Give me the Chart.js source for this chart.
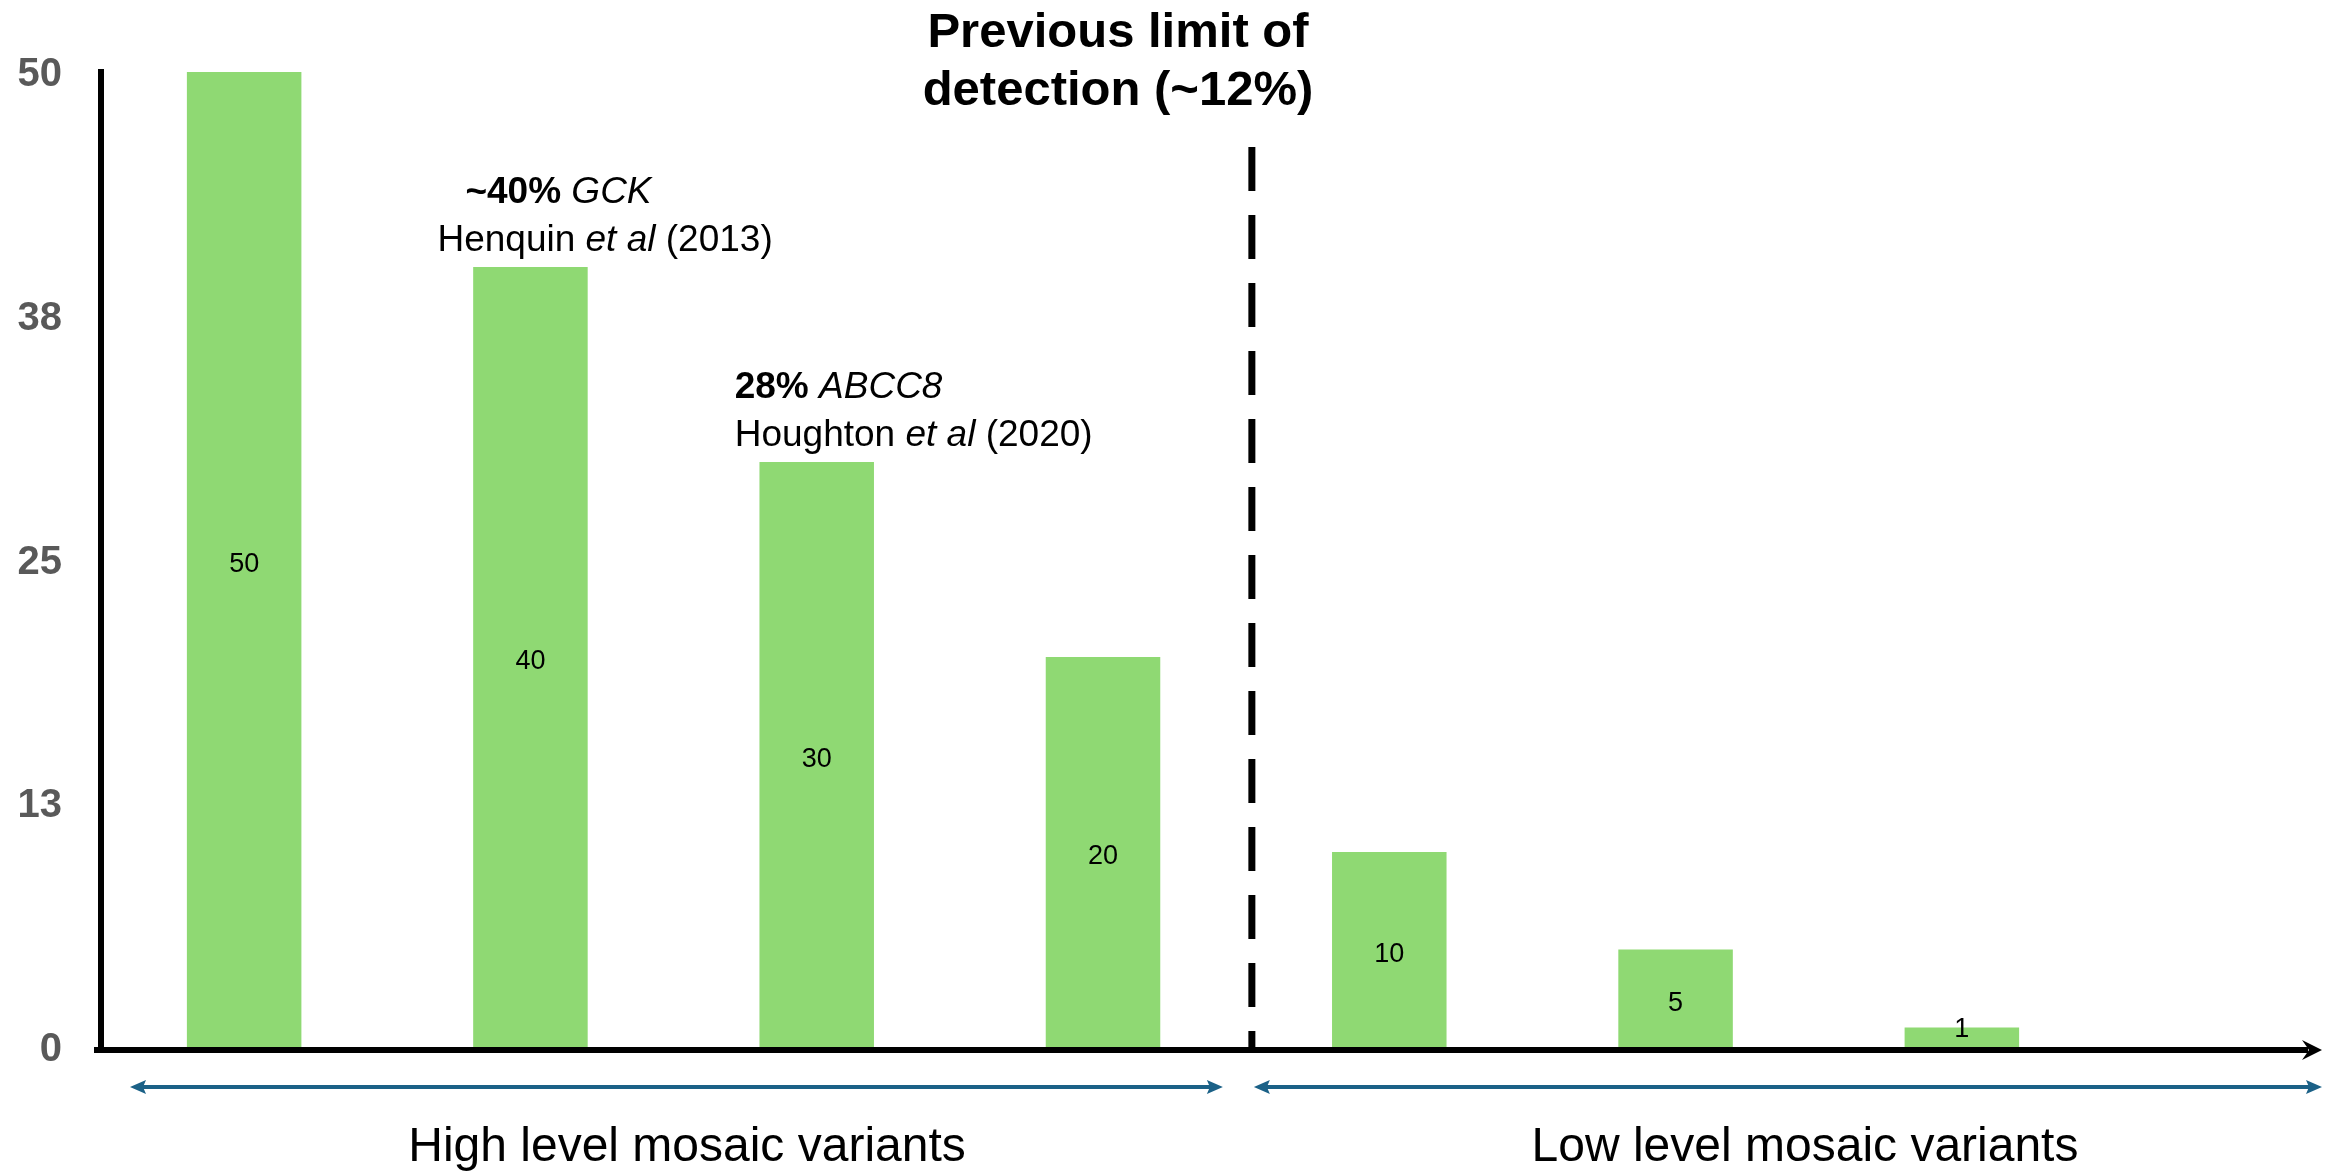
<!DOCTYPE html>
<html>
<head>
<meta charset="utf-8">
<script src="https://cdn.jsdelivr.net/npm/chart.js@4/dist/chart.umd.min.js"></script>
<style>
  html, body { margin: 0; padding: 0; background: #ffffff; }
  #wrap { width: 2341px; height: 1171px; position: relative; }
</style>
</head>
<body>
<div id="wrap"><canvas id="chart"></canvas></div>
<script>
// Variant allele fraction levels (%) shown as bars
const categories = ['50%', '40%', '30%', '20%', '10%', '5%', '1%'];
const variantLevels = [50, 40, 30, 20, 10, 5, 1];

// Y axis ticks and the labels printed next to them
const tickValues = [0, 12.5, 25, 37.5, 50];
const tickLabels = ['0', '13', '25', '38', '50'];

// Detection limit marker, sits between the 20% and 10% bars
const detectionLimitPosition = 3.52;
const detectionLimitLines = ['Previous limit of', 'detection (~12%)'];

// Group captions under the axis
const groupLabels = ['High level mosaic variants', 'Low level mosaic variants'];

// Literature call-outs above bars (bar index + styled text runs)
const calloutBars = [1, 2];
const calloutText = [
  [
    [{ t: '~40%', s: 'bold' }, { t: ' GCK', s: 'italic' }],
    [{ t: 'Henquin ', s: '' }, { t: 'et al', s: 'italic' }, { t: ' (2013)', s: '' }]
  ],
  [
    [{ t: '28%', s: 'bold' }, { t: ' ABCC8', s: 'italic' }],
    [{ t: 'Houghton ', s: '' }, { t: 'et al', s: 'italic' }, { t: ' (2020)', s: '' }]
  ]
];

const FONT = '"Liberation Sans", Arial, Helvetica, sans-serif';
const BAR_GREEN = '#8FD973';
const ARROW_BLUE = '#1B6187';

function drawRuns(ctx, runs, x, y, size) {
  let cx = x;
  for (const r of runs) {
    ctx.font = `${r.s} ${size}px ${FONT}`;
    ctx.fillText(r.t, cx, y);
    cx += ctx.measureText(r.t).width;
  }
}

function blueArrowHead(ctx, tipX, y, dir) {
  // dir = 1 points right, -1 points left
  const len = 16, half = 7, notch = 3;
  ctx.beginPath();
  ctx.moveTo(tipX, y);
  ctx.lineTo(tipX - dir * len, y - half);
  ctx.lineTo(tipX - dir * (len - notch), y);
  ctx.lineTo(tipX - dir * len, y + half);
  ctx.closePath();
  ctx.fill();
}

function doubleArrow(ctx, x1, x2, y) {
  ctx.save();
  ctx.strokeStyle = ARROW_BLUE;
  ctx.fillStyle = ARROW_BLUE;
  ctx.lineWidth = 4;
  ctx.beginPath();
  ctx.moveTo(x1 + 10, y);
  ctx.lineTo(x2 - 10, y);
  ctx.stroke();
  blueArrowHead(ctx, x1, y, -1);
  blueArrowHead(ctx, x2, y, 1);
  ctx.restore();
}

const decorations = {
  id: 'decorations',
  afterDatasetsDraw(chart) {
    const { ctx, chartArea: area, scales } = chart;
    const xs = scales.x;
    const base = area.bottom;
    ctx.save();

    // value labels inside the bars
    const meta = chart.getDatasetMeta(0);
    ctx.fillStyle = '#000000';
    ctx.font = `27px ${FONT}`;
    ctx.textAlign = 'center';
    ctx.textBaseline = 'middle';
    meta.data.forEach((bar, i) => {
      let y = (bar.y + bar.base) / 2 + 5;
      y = Math.min(y, bar.base - 17);
      ctx.fillText(String(variantLevels[i]), bar.x, y);
    });

    // y axis line
    ctx.fillStyle = '#000000';
    ctx.fillRect(area.left - 3, area.top - 3, 6, base - area.top + 9);

    // x axis line with arrow head
    const axisY = base + 3;
    const tipX = 2322;
    ctx.fillRect(area.left - 7, axisY - 3, tipX - 14 - (area.left - 7), 6);
    ctx.beginPath();
    ctx.moveTo(tipX, axisY);
    ctx.lineTo(tipX - 20, axisY - 10);
    ctx.lineTo(tipX - 13, axisY);
    ctx.lineTo(tipX - 20, axisY + 10);
    ctx.closePath();
    ctx.fill();

    // dashed detection-limit line
    const dashX = xs.getPixelForValue(detectionLimitPosition);
    ctx.strokeStyle = '#000000';
    ctx.lineWidth = 7;
    ctx.setLineDash([44, 24]);
    ctx.beginPath();
    ctx.moveTo(dashX, area.top + 75);
    ctx.lineTo(dashX, base);
    ctx.stroke();
    ctx.setLineDash([]);

    // detection-limit heading
    ctx.fillStyle = '#000000';
    ctx.textAlign = 'center';
    ctx.textBaseline = 'alphabetic';
    ctx.font = `bold 49px ${FONT}`;
    ctx.fillText(detectionLimitLines[0], 1118, 47);
    ctx.fillText(detectionLimitLines[1], 1118, 105);

    // call-outs above bars
    ctx.textAlign = 'left';
    const offsets = [[-65, -93], [-82, -82]];
    calloutBars.forEach((b, k) => {
      const bar = meta.data[b];
      const y2 = bar.y - 16;
      const y1 = y2 - 48;
      drawRuns(ctx, calloutText[k][0], bar.x + offsets[k][0], y1, 37);
      drawRuns(ctx, calloutText[k][1], bar.x + offsets[k][1], y2, 37);
    });

    // range arrows and captions
    const arrowY = base + 40;
    doubleArrow(ctx, area.left + 29, dashX - 29, arrowY);
    doubleArrow(ctx, dashX + 2, tipX, arrowY);

    ctx.fillStyle = '#000000';
    ctx.textAlign = 'center';
    ctx.font = `48px ${FONT}`;
    ctx.fillText(groupLabels[0], 687, 1161);
    ctx.fillText(groupLabels[1], 1805, 1161);

    ctx.restore();
  }
};

new Chart(document.getElementById('chart'), {
  type: 'bar',
  data: {
    labels: categories,
    datasets: [{
      data: variantLevels,
      backgroundColor: BAR_GREEN,
      borderWidth: 0,
      barPercentage: 0.4,
      categoryPercentage: 1
    }]
  },
  options: {
    responsive: true,
    maintainAspectRatio: false,
    animation: false,
    layout: { padding: { top: 72, right: 236, bottom: 124, left: 0 } },
    plugins: { legend: { display: false }, tooltip: { enabled: false } },
    scales: {
      x: { display: false, offset: true },
      y: {
        min: 0,
        max: 50,
        afterFit(scale) { scale.width = 101; },
        afterBuildTicks(scale) { scale.ticks = tickValues.map(v => ({ value: v })); },
        border: { display: false },
        grid: { display: false, drawTicks: false },
        ticks: {
          padding: 39,
          labelOffset: 3,
          color: '#595959',
          font: { family: FONT, size: 40, weight: 'bold' },
          callback: (v, i) => tickLabels[i]
        }
      }
    }
  },
  plugins: [decorations]
});
</script>
</body>
</html>
